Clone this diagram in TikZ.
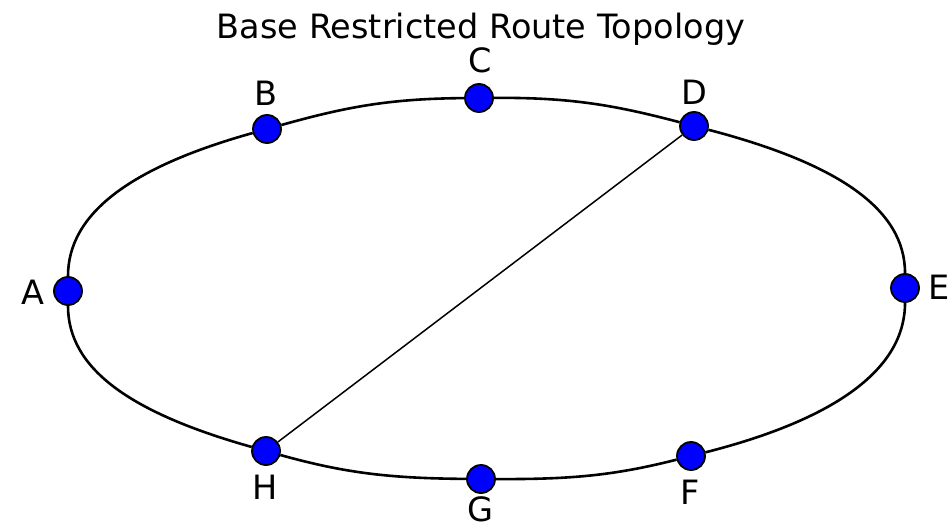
\documentclass[tikz,border=0pt]{standalone}
\usepackage{fontspec}
\setmainfont{DejaVu Sans}
\begin{document}
\begin{tikzpicture}[x=1pt,y=1pt,
  vertex/.style={circle, draw=black, line width=1.8pt, fill=blue, minimum size=28pt, inner sep=0pt},
  lbl/.style={inner sep=0pt, font=\fontsize{33.5}{40}\selectfont},
  ring/.style={line width=2.6pt, black},
  chord/.style={line width=1.5pt, black}]
\useasboundingbox (0,0) rectangle (949,528);
\node[lbl, anchor=base] (title) at (481,489) {Base Restricted Route Topology};
% vertices
\node[vertex] (A) at (68,237) {};
\node[vertex] (B) at (267,399) {};
\node[vertex] (C) at (479,430) {};
\node[vertex] (D) at (694,402) {};
\node[vertex] (E) at (905,240) {};
\node[vertex] (F) at (691,72) {};
\node[vertex] (G) at (481,49) {};
\node[vertex] (H) at (266,77) {};
% labels
\node[lbl] (lA) at (33,236) {A};
\node[lbl] (lB) at (266,435) {B};
\node[lbl] (lC) at (480,468) {C};
\node[lbl] (lD) at (694,436) {D};
\node[lbl] (lE) at (939,241) {E};
\node[lbl] (lF) at (690,36) {F};
\node[lbl] (lG) at (480,19) {G};
\node[lbl] (lH) at (265,41) {H};
% ring edges
\draw[ring] (A) to[out=90,in=195.7,out distance=62pt,in distance=128pt] (B);
\draw[ring] (B) to[out=15.7,in=180.5,out distance=66.7pt,in distance=75.5pt] (C);
\draw[ring] (C) to[out=0.5,in=165.3,out distance=76pt,in distance=68.1pt] (D);
\draw[ring] (D) to[out=-14.7,in=90,out distance=134pt,in distance=64pt] (E);
\draw[ring] (E) to[out=-90,in=14.3,out distance=65pt,in distance=136.7pt] (F);
\draw[ring] (F) to[out=194.3,in=-0.3,out distance=66pt,in distance=73.3pt] (G);
\draw[ring] (G) to[out=179.7,in=-15.7,out distance=76.3pt,in distance=67.3pt] (H);
\draw[ring] (H) to[out=164.3,in=-90,out distance=128pt,in distance=62pt] (A);
% chord
\draw[chord] (D) -- (H);
\end{tikzpicture}
\end{document}
